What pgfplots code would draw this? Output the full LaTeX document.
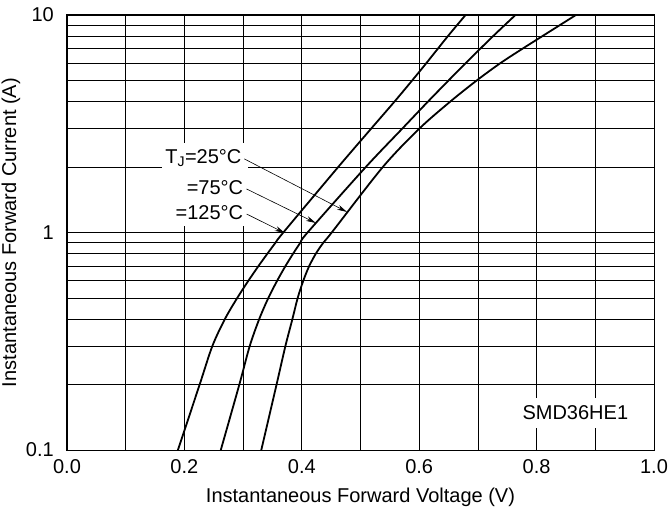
\documentclass[border=0pt]{standalone}
\usepackage{fontspec}
\setmainfont{Liberation Sans}
\usepackage{pgfplots}
\pgfplotsset{compat=1.18}
\usetikzlibrary{arrows.meta}

\begin{document}
\fontsize{20bp}{23bp}\selectfont
\begin{tikzpicture}
\begin{axis}[
    name=ax,
    scale only axis,
    width=587bp, height=435bp, % Plotfläche
    xmin=0, xmax=1, ymin=0.1, ymax=10,
    ymode=log,
    xtick={0,0.2,0.4,0.6,0.8,1},
    xticklabels={0.0,0.2,0.4,0.6,0.8,1.0},
    minor xtick={0.1,0.3,0.5,0.7,0.9},
    ytick={0.1,1,10},
    yticklabels={0.1,1,10},
    minor ytick={0.2,0.3,0.4,0.5,0.6,0.7,0.8,0.9,2,3,4,5,6,7,8,9},
    grid=both,
    major grid style={black, line width=0.8bp},
    minor grid style={black, line width=0.8bp},
    major tick length=0pt, minor tick length=0pt,
    axis line style={black, line width=1bp},
    xticklabel style={anchor=base, yshift=-23bp},
    yticklabel style={anchor=east, inner sep=0pt, xshift=-13bp},
    xlabel={Instantaneous Forward Voltage (V)},
    ylabel={Instantaneous Forward Current (A)},
    xlabel style={at={(axis description cs:0.5,0)}, anchor=base, yshift=-52bp},
    ylabel style={at={(axis description cs:-0.0954,0.5)}, anchor=center},
]

% linke Kurve (125 C)
\addplot[black, line width=1.8bp, smooth, tension=0.5] coordinates {
    (0.189,0.1) (0.226,0.2) (0.2475,0.3) (0.269,0.4) (0.290,0.5)
    (0.309,0.6) (0.326,0.7) (0.3415,0.8) (0.3555,0.9) (0.3685,1)
    (0.462,2) (0.518,3) (0.558,4) (0.588,5) (0.612,6) (0.649,8) (0.679,10)
};

% mittlere Kurve (75 C)
\addplot[black, line width=1.8bp, smooth, tension=0.5] coordinates {
    (0.262,0.1) (0.2936,0.2) (0.3112,0.3) (0.3275,0.4) (0.343,0.5)
    (0.358,0.6) (0.372,0.7) (0.3853,0.8) (0.3978,0.9) (0.4098,1)
    (0.509,2) (0.571,3) (0.615,4) (0.650,5) (0.679,6) (0.726,8) (0.764,10)
};

% rechte Kurve (25 C)
\addplot[black, line width=1.8bp, smooth, tension=0.5] coordinates {
    (0.331,0.1) (0.357,0.2) (0.372,0.3) (0.384,0.4) (0.393,0.5)
    (0.4025,0.6) (0.4125,0.7) (0.424,0.8) (0.437,0.9) (0.451,1)
    (0.538,2) (0.600,3) (0.653,4) (0.698,5) (0.738,6) (0.776,7) (0.810,8) (0.867,10)
};

% weisser Hintergrund der Beschriftung
\fill[white] (axis cs:0.162,2.58) rectangle (axis cs:0.309,1.075);
\node[anchor=east, inner sep=1.5bp] at (axis cs:0.300,2.20) {T\textsubscript{J}=25°C};
\node[anchor=east, inner sep=1.5bp] at (axis cs:0.303,1.60) {=75°C};
\node[anchor=east, inner sep=1.5bp] at (axis cs:0.303,1.23) {=125°C};
\draw[-{Stealth[length=10bp,width=5bp]}, line width=0.6bp] (axis cs:0.302,2.18) -- (axis cs:0.477,1.243);
\draw[-{Stealth[length=10bp,width=5bp]}, line width=0.6bp] (axis cs:0.306,1.585) -- (axis cs:0.424,1.106);
\draw[-{Stealth[length=10bp,width=5bp]}, line width=0.6bp] (axis cs:0.306,1.216) -- (axis cs:0.371,0.995);

\node[fill=white, inner xsep=4bp, inner ysep=8bp] at (axis cs:0.866,0.148) {SMD36HE1};
\end{axis}
\pgfresetboundingbox
\path[use as bounding box] ([xshift=-67bp,yshift=-59bp]ax.south west) rectangle ([xshift=15bp,yshift=15bp]ax.north east);
\end{tikzpicture}
\end{document}
